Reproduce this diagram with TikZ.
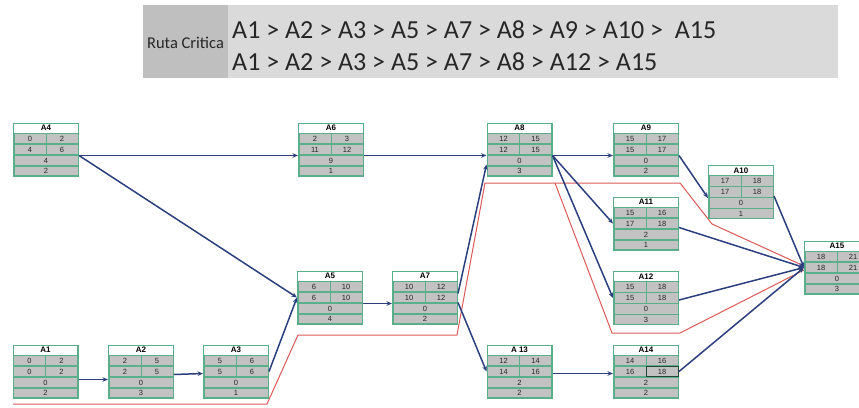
\documentclass[tikz,border=0pt]{standalone}
\usepackage{fontspec}
\setmainfont{Carlito}
\newfontfamily\nodefont{Liberation Sans}
\usetikzlibrary{arrows.meta,calc}
\definecolor{navy}{HTML}{2B3F7E}
\definecolor{pgreen}{HTML}{5BAE8A}
\definecolor{rowgray}{HTML}{C2C2C2}
\definecolor{critred}{HTML}{DB5A58}
\definecolor{hdark}{HTML}{BFBFBF}
\definecolor{hlight}{HTML}{DADADA}
\tikzset{
  conn/.style={draw=navy, line width=1.5pt, -{Stealth[length=5.5pt,width=4.5pt]}},
  crit/.style={draw=critred, line width=1pt},
  numtxt/.style={font=\nodefont\fontsize{7.5}{7.5}\selectfont, inner sep=0pt, text=black!85},
  ttltxt/.style={font=\nodefont\bfseries\fontsize{8}{8}\selectfont, inner sep=0pt},
}
\newcommand{\PNode}[9]{%
  \node[minimum width=66pt, minimum height=54pt, inner sep=0pt, outer sep=0pt] (#1) at (#2) {};
  \begin{scope}[shift={(#2)}]
    \fill[pgreen] (-33,-27) rectangle (33,27);
    \fill[white] (-31.8,-25.8) rectangle (31.8,-17);
    \fill[rowgray] (-31.5,-15.8) rectangle (31.5,-6.2);
    \fill[rowgray] (-31.5,-4.8) rectangle (31.5,4.8);
    \fill[rowgray] (-31.5,6.2) rectangle (31.5,15.8);
    \fill[rowgray] (-31.5,17.2) rectangle (31.5,25.8);
    \draw[pgreen, line width=1pt] (0,-16) -- (0,5);
    \node[ttltxt] (#1-t) at (0,-21.4) {#3};
    \node[numtxt] (#1-a) at (-16,-11) {#4};
    \node[numtxt] (#1-b) at (16,-11) {#5};
    \node[numtxt] (#1-c) at (-16,0) {#6};
    \node[numtxt] (#1-d) at (16,0) {#7};
    \node[numtxt] (#1-e) at (0,11) {#8};
    \node[numtxt] (#1-f) at (0,21.5) {#9};
  \end{scope}}
\begin{document}
\begin{tikzpicture}[x=1pt,y=-1pt]
\useasboundingbox (0,0) rectangle (859,407);
% header
\fill[hlight] (143,5) rectangle (838,78);
\fill[hdark] (143,5) rectangle (228,78);
\node[font=\fontsize{16.5}{16.5}\selectfont, inner sep=0pt, text=black!85] (ruta) at (185.5,43) {Ruta Critica};
\node[font=\fontsize{26}{26}\selectfont, inner sep=0pt, anchor=base west, text=black!85] (path1) at (232,38) {A1 > A2 > A3 > A5 > A7 > A8 > A9 > A10 >\ \ A15};
\node[font=\fontsize{26}{26}\selectfont, inner sep=0pt, anchor=base west, text=black!85] (path2) at (232,70) {A1 > A2 > A3 > A5 > A7 > A8 > A12 > A15};
% critical path outlines
\draw[crit] (13,404) -- (267,404) -- (298,335) -- (457,335) -- (485,183) -- (680,183) -- (712,224) -- (804,266);
\draw[crit] (555,183) -- (612,333) -- (680,333) -- (804,270);
% nodes
\PNode{A4}{46,149.5}{A4}{0}{2}{4}{6}{4}{2}
\PNode{A6}{331,149.5}{A6}{2}{3}{11}{12}{9}{1}
\PNode{A8}{519.5,149.5}{A8}{12}{15}{12}{15}{0}{3}
\PNode{A9}{646,149.5}{A9}{15}{17}{15}{17}{0}{2}
\PNode{A10}{741,192}{A10}{17}{18}{17}{18}{0}{1}
\PNode{A11}{646,223.5}{A11}{15}{16}{17}{18}{2}{1}
\PNode{A12}{646,298}{A12}{15}{18}{15}{18}{0}{3}
\PNode{A15}{837,267.5}{A15}{18}{21}{18}{21}{0}{3}
\PNode{A5}{330,297.5}{A5}{6}{10}{6}{10}{0}{4}
\PNode{A7}{425,297.5}{A7}{10}{12}{10}{12}{0}{2}
\PNode{A1}{45.5,371.5}{A1}{0}{2}{0}{2}{0}{2}
\PNode{A2}{141,371.5}{A2}{2}{5}{2}{5}{0}{3}
\PNode{A3}{236,371.5}{A3}{5}{6}{5}{6}{0}{1}
\PNode{A13}{519.5,371.5}{A 13}{12}{14}{14}{16}{2}{2}
\PNode{A14}{646,371.5}{A14}{14}{16}{16}{18}{2}{2}
\draw[draw=black!60!pgreen, line width=0.8pt] (646,366.5) rectangle (678,376.5);
% connectors
\draw[conn] ([yshift=-6pt]A4.east) -- ([yshift=-6pt]A6.west);
\draw[conn] ([yshift=-6pt]A4.east) -- (A5.west);
\draw[conn] ([yshift=-6pt]A6.east) -- ([yshift=-6pt]A8.west);
\draw[conn] ([yshift=-8pt]A1.east) -- ([yshift=-8pt]A2.west);
\draw[conn] ([yshift=-3pt]A2.east) -- ([yshift=-2pt]A3.west);
\draw[conn] (A3.east) -- (A5.west);
\draw[conn] ([yshift=-6pt]A5.east) -- ([yshift=-6pt]A7.west);
\draw[conn] ([yshift=4pt]A7.east) -- ([yshift=-15pt]A8.west);
\draw[conn] ([yshift=-5pt]A7.east) -- (A13.west);
\draw[conn] ([yshift=-6pt]A8.east) -- ([yshift=-6pt]A9.west);
\draw[conn] ([yshift=-6pt]A8.east) -- (A11.west);
\draw[conn] ([yshift=-6pt]A8.east) -- (A12.west);
\draw[conn] ([yshift=-6pt]A9.east) -- ([yshift=-6pt]A10.west);
\draw[conn] ([yshift=-4pt]A10.east) -- (A15.west);
\draw[conn] ([yshift=-4pt]A11.east) -- (A15.west);
\draw[conn] ([yshift=-2pt]A12.east) -- (A15.west);
\draw[conn] (A14.east) -- (A15.west);
\draw[conn] ([yshift=-2pt]A13.east) -- ([yshift=-2pt]A14.west);
\end{tikzpicture}
\end{document}
